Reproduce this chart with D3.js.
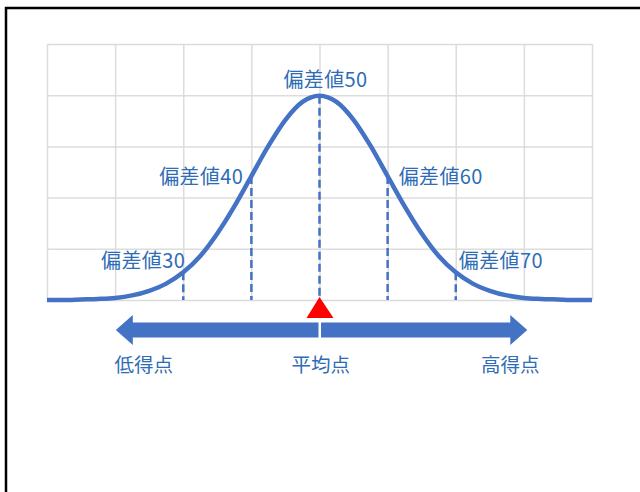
<!DOCTYPE html>
<html>
<head>
<meta charset="utf-8">
<script src="https://cdn.jsdelivr.net/npm/d3@7"></script>
<style>
  body { margin: 0; background: #fff; }
  svg { display: block; }
</style>
</head>
<body>
<div id="chart"></div>
<script>
// curve samples (score, height of the bell)
var scores = [10, 12.5, 15, 17.5, 20, 22.5, 25, 27.5, 30, 32.5, 35, 37.5, 40, 42.5, 45, 47.5, 50,
  52.5, 55, 57.5, 60, 62.5, 65, 67.5, 70, 72.5, 75, 77.5, 80, 82.5, 85, 87.5, 90];
var heights = [0.000, 0.000, 0.001, 0.002, 0.004, 0.009, 0.018, 0.032, 0.054, 0.086, 0.130, 0.183, 0.242, 0.301, 0.352, 0.387, 0.399,
  0.387, 0.352, 0.301, 0.242, 0.183, 0.130, 0.086, 0.054, 0.032, 0.018, 0.009, 0.004, 0.002, 0.001, 0.000, 0.000];

// dashed markers
var markScores = [30, 40, 50, 60, 70];
var markLabels = ["偏差値30", "偏差値40", "偏差値50", "偏差値60", "偏差値70"];

// grid ticks
var xTicks = [10, 20, 30, 40, 50, 60, 70, 80, 90];
var yTicks = [0, 0.1, 0.2, 0.3, 0.4, 0.5];

// arrow labels
var arrowLabels = ["低得点", "平均点", "高得点"];

var W = 640, H = 492;
var margin = { top: 44, right: 48, bottom: 192, left: 47 },
  width = W - margin.left - margin.right,
  height = H - margin.top - margin.bottom;

var blue = "#4472C4", textBlue = "#2E6DB5";
var font = "'Noto Sans CJK JP', 'Noto Sans', sans-serif";

var root = d3.select("#chart").append("svg")
  .attr("width", W)
  .attr("height", H);

// outer frame (only top and left edges are visible)
root.append("rect")
  .attr("x", 6).attr("y", 8)
  .attr("width", 700).attr("height", 600)
  .attr("fill", "none")
  .attr("stroke", "#000")
  .attr("stroke-width", 2.5);

var svg = root.append("g")
  .attr("transform", "translate(" + margin.left + "," + margin.top + ")");

var x = d3.scaleLinear().domain([10, 90]).range([0, width]);
var y = d3.scaleLinear().domain([0, 0.5]).range([height, 0]);

// grid
svg.append("g")
  .call(d3.axisBottom(x).tickValues(xTicks).tickSize(height).tickSizeOuter(0).tickFormat(""))
  .call(function (g) { g.select(".domain").remove(); })
  .call(function (g) {
    g.selectAll(".tick line").attr("y1", 0).attr("y2", height)
      .attr("stroke", "#dcdcdc").attr("stroke-width", 1.5);
  });

svg.append("g")
  .call(d3.axisLeft(y).tickValues(yTicks).tickSize(-width).tickFormat(""))
  .call(function (g) { g.select(".domain").remove(); })
  .call(function (g) {
    g.selectAll(".tick line").attr("stroke", "#dcdcdc").attr("stroke-width", 1.5);
  });

var points = scores.map(function (s, i) { return { s: s, h: heights[i] }; });
function heightAt(s) { return heights[scores.indexOf(s)]; }

// dashed verticals
svg.selectAll(".mark")
  .data(markScores)
  .enter().append("line")
  .attr("class", "mark")
  .attr("x1", function (d) { return x(d); })
  .attr("x2", function (d) { return x(d); })
  .attr("y1", function (d) { return y(heightAt(d)); })
  .attr("y2", function (d) { return d === 50 ? y(0) - 4 : y(0); })
  .attr("stroke", blue)
  .attr("stroke-width", 2.5)
  .attr("stroke-dasharray", "8,4");

// bell curve
var line = d3.line()
  .x(function (d) { return x(d.s); })
  .y(function (d) { return y(d.h); })
  .curve(d3.curveMonotoneX);

svg.append("path")
  .datum(points)
  .attr("d", line)
  .attr("fill", "none")
  .attr("stroke", blue)
  .attr("stroke-width", 4.5)
  .attr("stroke-linecap", "butt");

// marker labels
var labelPos = {
  30: { dx: 2, dy: -41, anchor: "end" },
  40: { dx: -8, dy: -125, anchor: "end" },
  50: { dx: 6, dy: -222, anchor: "middle" },
  60: { dx: 11, dy: -125, anchor: "start" },
  70: { dx: 3, dy: -41, anchor: "start" }
};
svg.selectAll(".mlabel")
  .data(markScores)
  .enter().append("text")
  .attr("class", "mlabel")
  .attr("x", function (d) { return x(d) + labelPos[d].dx; })
  .attr("y", function (d) { return y(0) + labelPos[d].dy; })
  .attr("text-anchor", function (d) { return labelPos[d].anchor; })
  .attr("dominant-baseline", "central")
  .style("font-family", font)
  .style("font-size", "20px")
  .style("letter-spacing", "0.4px")
  .style("fill", textBlue)
  .text(function (d, i) { return markLabels[i]; });

// double arrow below the axis
var ay = height + 30, shaft = 7.5, head = 15, headLen = 17;
var leftTip = x(20.1), rightTip = x(80.5), mid = x(50);
svg.append("path")
  .attr("d", "M" + leftTip + "," + ay +
    "L" + (leftTip + headLen) + "," + (ay - head) +
    "L" + (leftTip + headLen) + "," + (ay - shaft) +
    "L" + (mid - 1) + "," + (ay - shaft) +
    "L" + (mid - 1) + "," + (ay + shaft) +
    "L" + (leftTip + headLen) + "," + (ay + shaft) +
    "L" + (leftTip + headLen) + "," + (ay + head) + "Z")
  .attr("fill", blue);
svg.append("path")
  .attr("d", "M" + rightTip + "," + ay +
    "L" + (rightTip - headLen) + "," + (ay - head) +
    "L" + (rightTip - headLen) + "," + (ay - shaft) +
    "L" + (mid + 1.5) + "," + (ay - shaft) +
    "L" + (mid + 1.5) + "," + (ay + shaft) +
    "L" + (rightTip - headLen) + "," + (ay + shaft) +
    "L" + (rightTip - headLen) + "," + (ay + head) + "Z")
  .attr("fill", blue);

// red mean marker
svg.append("path")
  .attr("d", "M" + mid + "," + (y(0) - 3) +
    "L" + (mid + 14) + "," + (y(0) + 18) +
    "L" + (mid - 13) + "," + (y(0) + 18) + "Z")
  .attr("fill", "#FF0000");

// arrow labels
var arrowLabelX = [24.2, 50.2, 78];
svg.selectAll(".alabel")
  .data(arrowLabels)
  .enter().append("text")
  .attr("class", "alabel")
  .attr("x", function (d, i) { return x(arrowLabelX[i]); })
  .attr("y", height + 63)
  .attr("text-anchor", "middle")
  .attr("dominant-baseline", "central")
  .style("font-family", font)
  .style("font-size", "19.5px")
  .style("fill", textBlue)
  .text(function (d) { return d; });
</script>
</body>
</html>
